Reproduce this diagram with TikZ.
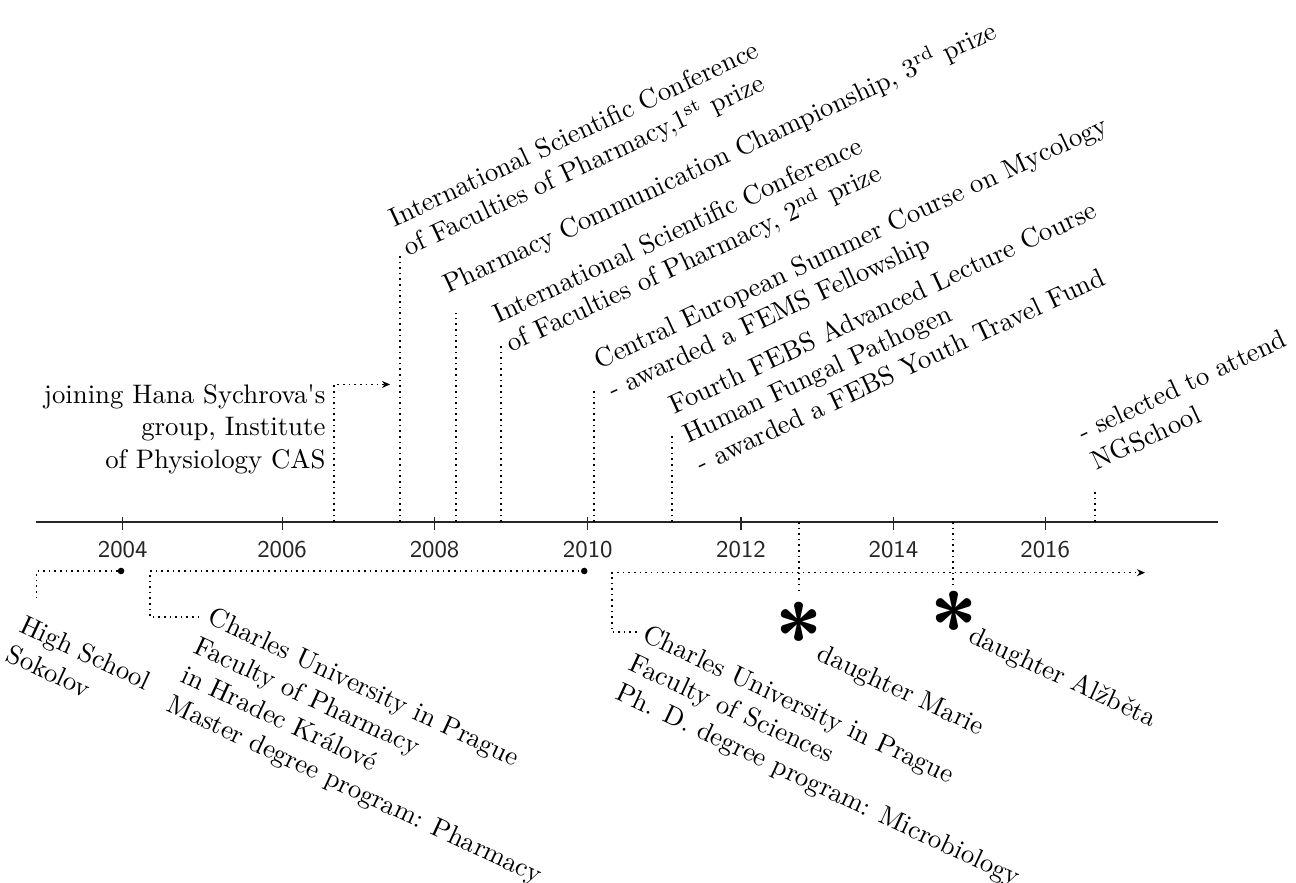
\documentclass[tikz,border=0pt]{standalone}
\usepackage{tikz}
\usetikzlibrary{arrows.meta}
\tikzset{
  tl axis/.style={semithick, black!85},
  tl tick/.style={thin, black!85},
  tl year/.style={font=\small\sffamily, inner sep=1pt},
  tl text/.style={font=\normalsize, inner sep=0pt},
  tl ev/.style={line width=0.6pt, dash pattern=on 0.6pt off 1.5pt},
  tl arr/.style={tl ev, -{Stealth[length=3pt, width=2.6pt]}},
  tl dot/.style={tl ev, -{Circle[length=2.4pt]}},
  tl up/.style={tl text, rotate=25, anchor=south west, align=left},
  tl down/.style={tl text, rotate=-25, anchor=north west, align=left},
  tl star/.style={font=\fontsize{32}{32}\selectfont\sffamily\bfseries, inner sep=0pt},
}
\begin{document}
\begin{tikzpicture}[x=1cm, y=1cm]
  \useasboundingbox (0,-4.735) rectangle (17.0,6.847);
  % axis with years
  \draw[tl axis] (0.472,0) coordinate (ax0) -- (15.977,0) coordinate (ax1);
  \foreach \yr/\x in {2004/1.61, 2006/3.70, 2008/5.70, 2010/7.71, 2012/9.72, 2014/11.72, 2016/13.71}
    \draw[tl tick] (\x,0.07) -- (\x,-0.11) node[tl year] (y\yr) at (\x,-0.36) {\yr};
  % above the axis
  \coordinate (j0) at (4.385,0);
  \coordinate (j1) at (4.385,1.804);
  \coordinate (j2) at (5.116,1.804);
  \draw[tl arr] (j0) -- (j1) -- (j2);
  \node[tl text, anchor=north east, align=right] (join) at (4.276,1.805)
    {joining Hana Sychrova\textquotesingle s\\ group, Institute\\ of Physiology CAS};
  \foreach \n/\x/\h in {e1/5.247/3.502, e2/5.981/2.741, e3/6.572/2.348, e4/7.788/1.731, e5/8.811/1.167, e6/14.363/0.420}
    \draw[tl ev] (\x,0) coordinate (\n b) -- (\x,\h) coordinate (\n t);
  \node[tl up] (isc1) at (5.385,3.410) {International Scientific Conference\\ of Faculties of Pharmacy,1\textsuperscript{st} prize};
  \node[tl up] (pcc) at (5.909,2.916) {Pharmacy Communication Championship, 3\textsuperscript{rd} prize};
  \node[tl up] (isc2) at (6.741,2.151) {International Scientific Conference\\ of Faculties of Pharmacy, 2\textsuperscript{nd} prize};
  \node[tl up] (myc) at (8.067,1.547) {Central European Summer Course on Mycology\\ - awarded a FEMS Fellowship};
  \node[tl up] (febs) at (9.208,0.630) {Fourth FEBS Advanced Lecture Course\\ Human Fungal Pathogen\\ - awarded a FEBS Youth Travel Fund};
  \node[tl up] (ngs) at (14.386,0.660) {- selected to attend\\ NGSchool};
  % below the axis: schools
  \coordinate (hs0) at (0.481,-1.0);
  \coordinate (hs1) at (1.630,-0.643);
  \draw[tl dot] (hs0) |- (hs1);
  \node[tl down] (hs) at (0.340,-1.200) {High School\\ Sokolov};
  \coordinate (cp0) at (2.614,-1.250);
  \coordinate (cp1) at (7.706,-0.643);
  \draw[tl dot] (cp0) -| (1.968,-0.643) -- (cp1);
  \node[tl down] (cup) at (2.810,-1.090) {Charles University in Prague\\ Faculty of Pharmacy\\ in Hradec Králové\\ Master degree program: Pharmacy};
  \coordinate (cs0) at (8.352,-1.447);
  \coordinate (cs1) at (15.019,-0.665);
  \draw[tl arr] (cs0) -| (8.024,-0.665) -- (cs1);
  \node[tl down] (cus) at (8.515,-1.320) {Charles University in Prague\\ Faculty of Sciences\\ Ph. D. degree program: Microbiology};
  % below the axis: daughters
  \draw[tl ev] (10.48,0) coordinate (m0) -- (10.48,-0.958) coordinate (m1);
  \node[tl star] (mstar) at (10.48,-1.48) {*};
  \node[tl down] (marie) at (10.799,-1.570) {daughter Marie};
  \draw[tl ev] (12.497,0) coordinate (a0) -- (12.497,-0.839) coordinate (a1);
  \node[tl star] (astar) at (12.51,-1.33) {*};
  \node[tl down] (alz) at (12.789,-1.329) {daughter Alžběta};
\end{tikzpicture}
\end{document}
